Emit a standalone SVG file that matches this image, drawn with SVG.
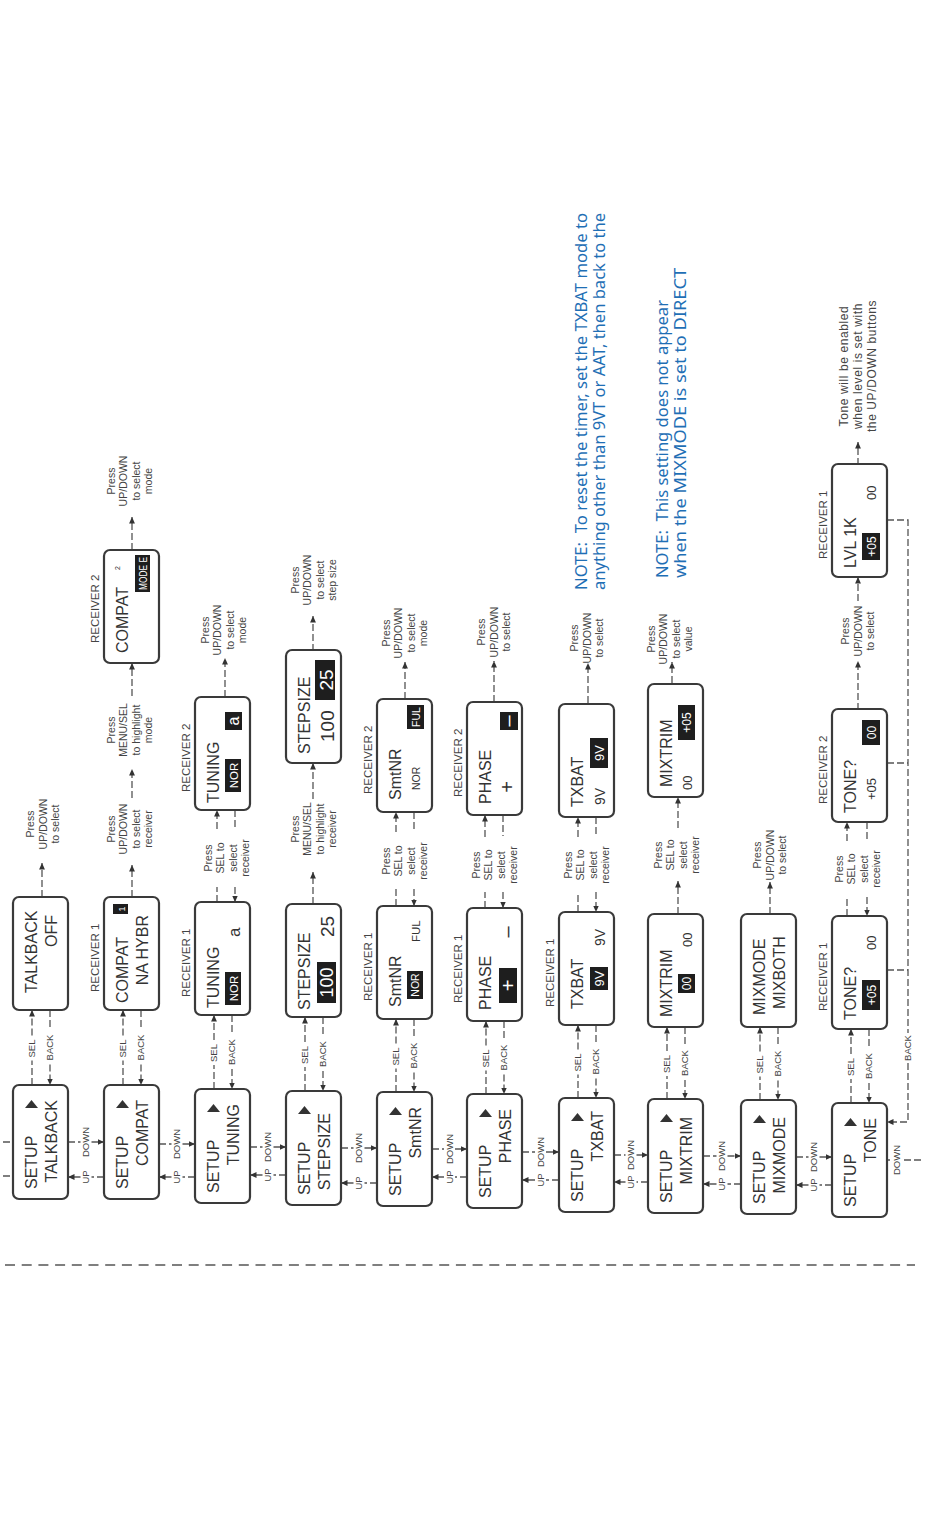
<svg xmlns="http://www.w3.org/2000/svg" width="950" height="1514" viewBox="0 0 950 1514">
<defs>
<marker id="ah" viewBox="0 0 10 10" refX="10" refY="5" markerWidth="6.5" markerHeight="6.5" markerUnits="userSpaceOnUse" orient="auto"><path d="M0,0.5 L10,5 L0,9.5 z" fill="#333"/></marker>
<style>
text{font-family:"Liberation Sans",Arial,sans-serif}
.box{fill:#fff;stroke:#3a3a3a;stroke-width:2.2}
.bt{font-size:16px;fill:#333}
.lb{font-size:10.5px;fill:#444;text-anchor:middle}
.cl{font-size:9.5px;fill:#444;text-anchor:middle}
.rc{font-size:11.5px;fill:#444}
.hl{fill:#1e1e1e}
.ht{fill:#fff;text-anchor:middle}
.vt{fill:#333}
.note{font-family:"Noto Sans","Open Sans",sans-serif;font-size:16px;fill:#1f6fb5}
.dl{fill:none;stroke:#555;stroke-width:1.3;stroke-dasharray:7 3}
.da{fill:none;stroke:#555;stroke-width:1.3;stroke-dasharray:7 3;marker-end:url(#ah)}
.sep{fill:none;stroke:#555;stroke-width:1.3;stroke-dasharray:10 6.7}
.tri{fill:#333}
</style>
</defs>
<rect width="950" height="1514" fill="#fff"/>
<g transform="translate(0,1514) rotate(-90)">

<g id="connectors">
<path class="sep" d="M249,5 V915"/>
<path class="dl" d="M372,3 V13 M338,3 V13"/>
<path class="dl" d="M429,32 H453.5"/><text class="cl" x="465.5" y="35.3">SEL</text><path class="da" d="M478.5,32 H504"/>
<path class="dl" d="M504,50 H484.5"/><text class="cl" x="466.5" y="53.3">BACK</text><path class="da" d="M449.5,50 H429"/>
<path class="dl" d="M429,123 H453.5"/><text class="cl" x="465.5" y="126.3">SEL</text><path class="da" d="M478.5,123 H504"/>
<path class="dl" d="M504,141 H484.5"/><text class="cl" x="466.5" y="144.3">BACK</text><path class="da" d="M449.5,141 H429"/>
<path class="dl" d="M425,214 H449"/><text class="cl" x="461" y="217.3">SEL</text><path class="da" d="M474,214 H499"/>
<path class="dl" d="M499,232 H480"/><text class="cl" x="462" y="235.3">BACK</text><path class="da" d="M445,232 H425"/>
<path class="dl" d="M423,305 H447"/><text class="cl" x="459" y="308.3">SEL</text><path class="da" d="M472,305 H497"/>
<path class="dl" d="M497,323 H478"/><text class="cl" x="460" y="326.3">BACK</text><path class="da" d="M443,323 H423"/>
<path class="dl" d="M422,396 H445.5"/><text class="cl" x="457.5" y="399.3">SEL</text><path class="da" d="M470.5,396 H495"/>
<path class="dl" d="M495,414 H476.5"/><text class="cl" x="458.5" y="417.3">BACK</text><path class="da" d="M441.5,414 H422"/>
<path class="dl" d="M420,486 H443.5"/><text class="cl" x="455.5" y="489.3">SEL</text><path class="da" d="M468.5,486 H493"/>
<path class="dl" d="M493,504 H474.5"/><text class="cl" x="456.5" y="507.3">BACK</text><path class="da" d="M439.5,504 H420"/>
<path class="dl" d="M416,578 H439.5"/><text class="cl" x="451.5" y="581.3">SEL</text><path class="da" d="M464.5,578 H489"/>
<path class="dl" d="M489,596 H470.5"/><text class="cl" x="452.5" y="599.3">BACK</text><path class="da" d="M435.5,596 H416"/>
<path class="dl" d="M415,667 H438"/><text class="cl" x="450" y="670.3">SEL</text><path class="da" d="M463,667 H487"/>
<path class="dl" d="M487,685 H469"/><text class="cl" x="451" y="688.3">BACK</text><path class="da" d="M434,685 H415"/>
<path class="dl" d="M414,760 H437.5"/><text class="cl" x="449.5" y="763.3">SEL</text><path class="da" d="M462.5,760 H487"/>
<path class="dl" d="M487,778 H468.5"/><text class="cl" x="450.5" y="781.3">BACK</text><path class="da" d="M433.5,778 H414"/>
<path class="dl" d="M411,851 H435"/><text class="cl" x="447" y="854.3">SEL</text><path class="da" d="M460,851 H485"/>
<path class="dl" d="M485,869 H466"/><text class="cl" x="448" y="872.3">BACK</text><path class="da" d="M431,869 H411"/>
<path class="dl" d="M372,68 V80.5"/><text class="cl" x="372" y="89.3">DOWN</text><path class="da" d="M372,91.5 V104"/>
<path class="dl" d="M337,104 V91.5"/><text class="cl" x="337" y="89.3">UP</text><path class="da" d="M337,80.5 V68"/>
<path class="dl" d="M370,159 V171.5"/><text class="cl" x="370" y="180.3">DOWN</text><path class="da" d="M370,182.5 V195"/>
<path class="dl" d="M337,195 V182.5"/><text class="cl" x="337" y="180.3">UP</text><path class="da" d="M337,171.5 V159"/>
<path class="dl" d="M367,250 V262.5"/><text class="cl" x="367" y="271.3">DOWN</text><path class="da" d="M367,273.5 V286"/>
<path class="dl" d="M339,286 V273.5"/><text class="cl" x="339" y="271.3">UP</text><path class="da" d="M339,262.5 V250"/>
<path class="dl" d="M366,341 V353.5"/><text class="cl" x="366" y="362.3">DOWN</text><path class="da" d="M366,364.5 V377"/>
<path class="dl" d="M331,377 V364.5"/><text class="cl" x="331" y="362.3">UP</text><path class="da" d="M331,353.5 V341"/>
<path class="dl" d="M365,432 V444"/><text class="cl" x="365" y="452.8">DOWN</text><path class="da" d="M365,455 V467"/>
<path class="dl" d="M337,467 V455"/><text class="cl" x="337" y="452.8">UP</text><path class="da" d="M337,444 V432"/>
<path class="dl" d="M362,522 V535"/><text class="cl" x="362" y="543.8">DOWN</text><path class="da" d="M362,546 V559"/>
<path class="dl" d="M334,559 V546"/><text class="cl" x="334" y="543.8">UP</text><path class="da" d="M334,535 V522"/>
<path class="dl" d="M359,614 V625.5"/><text class="cl" x="359" y="634.3">DOWN</text><path class="da" d="M359,636.5 V648"/>
<path class="dl" d="M332,648 V636.5"/><text class="cl" x="332" y="634.3">UP</text><path class="da" d="M332,625.5 V614"/>
<path class="dl" d="M358,703 V716.5"/><text class="cl" x="358" y="725.3">DOWN</text><path class="da" d="M358,727.5 V741"/>
<path class="dl" d="M330,741 V727.5"/><text class="cl" x="330" y="725.3">UP</text><path class="da" d="M330,716.5 V703"/>
<path class="dl" d="M357,796 V808.5"/><text class="cl" x="357" y="817.3">DOWN</text><path class="da" d="M357,819.5 V832"/>
<path class="dl" d="M329,832 V819.5"/><text class="cl" x="329" y="817.3">UP</text><path class="da" d="M329,808.5 V796"/>
<path class="dl" d="M354,887 V890 M354,904 V922"/><text class="cl" x="354" y="900.3">DOWN</text>
<path class="dl" d="M994,887 V908 H481"/><text class="cl" x="466" y="911.3">BACK</text><path class="da" d="M451,908 H392 V887"/>
<path class="dl" d="M544,887 V908 M751,887 V908"/>
<path class="da" d="M617,42 H651"/>
<path class="da" d="M617,132 H649"/><path class="da" d="M716,132 H745"/><path class="da" d="M818,132 H851"/><path class="da" d="M964,132 H997"/>
<path class="dl" d="M612,217 H627"/><path class="da" d="M685,217 H704"/><path class="dl" d="M704,235 H686"/><path class="da" d="M627,235 H612"/>
<path class="da" d="M817,225 H856"/>
<path class="da" d="M610,313 H642"/><path class="da" d="M715,313 H751"/><path class="da" d="M863,313 H898"/>
<path class="dl" d="M608,396 H625"/><path class="da" d="M682,396 H702"/><path class="dl" d="M702,414 H682"/><path class="da" d="M625,414 H608"/>
<path class="da" d="M815,405 H852"/>
<path class="dl" d="M606,485 H622"/><path class="da" d="M677,485 H699"/><path class="dl" d="M699,503 H678"/><path class="da" d="M622,503 H606"/>
<path class="da" d="M812,494 H853"/>
<path class="dl" d="M602,578 H622"/><path class="da" d="M677,578 H697"/><path class="dl" d="M697,596 H678"/><path class="da" d="M622,596 H602"/>
<path class="da" d="M811,588 H851"/>
<path class="da" d="M600,678 H633"/><path class="da" d="M686,678 H717"/><path class="da" d="M831,672 H852"/>
<path class="da" d="M600,770 H632"/>
<path class="dl" d="M598,847 H617"/><path class="da" d="M673,847 H692"/><path class="dl" d="M692,867 H674"/><path class="da" d="M617,867 H598"/>
<path class="da" d="M804,858 H853"/><path class="da" d="M913,858 H937"/><path class="da" d="M1049,858 H1072"/>
<text class="lb"><tspan x="690" y="34">Press</tspan><tspan x="690" y="46.5">UP/DOWN</tspan><tspan x="690" y="59">to select</tspan></text>
<text class="lb"><tspan x="685" y="114.75">Press</tspan><tspan x="685" y="127.25">UP/DOWN</tspan><tspan x="685" y="139.75">to select</tspan><tspan x="685" y="152.25">receiver</tspan></text>
<text class="lb"><tspan x="784" y="114.75">Press</tspan><tspan x="784" y="127.25">MENU/SEL</tspan><tspan x="784" y="139.75">to highlight</tspan><tspan x="784" y="152.25">mode</tspan></text>
<text class="lb"><tspan x="1033" y="114.75">Press</tspan><tspan x="1033" y="127.25">UP/DOWN</tspan><tspan x="1033" y="139.75">to select</tspan><tspan x="1033" y="152.25">mode</tspan></text>
<text class="lb"><tspan x="656" y="211.75">Press</tspan><tspan x="656" y="224.25">SEL to</tspan><tspan x="656" y="236.75">select</tspan><tspan x="656" y="249.25">receiver</tspan></text>
<text class="lb"><tspan x="884" y="208.75">Press</tspan><tspan x="884" y="221.25">UP/DOWN</tspan><tspan x="884" y="233.75">to select</tspan><tspan x="884" y="246.25">mode</tspan></text>
<text class="lb"><tspan x="685" y="298.75">Press</tspan><tspan x="685" y="311.25">MENU/SEL</tspan><tspan x="685" y="323.75">to highlight</tspan><tspan x="685" y="336.25">receiver</tspan></text>
<text class="lb"><tspan x="934" y="298.75">Press</tspan><tspan x="934" y="311.25">UP/DOWN</tspan><tspan x="934" y="323.75">to select</tspan><tspan x="934" y="336.25">step size</tspan></text>
<text class="lb"><tspan x="653" y="389.75">Press</tspan><tspan x="653" y="402.25">SEL to</tspan><tspan x="653" y="414.75">select</tspan><tspan x="653" y="427.25">receiver</tspan></text>
<text class="lb"><tspan x="881" y="389.75">Press</tspan><tspan x="881" y="402.25">UP/DOWN</tspan><tspan x="881" y="414.75">to select</tspan><tspan x="881" y="427.25">mode</tspan></text>
<text class="lb"><tspan x="649" y="479.75">Press</tspan><tspan x="649" y="492.25">SEL to</tspan><tspan x="649" y="504.75">select</tspan><tspan x="649" y="517.25">receiver</tspan></text>
<text class="lb"><tspan x="882" y="485">Press</tspan><tspan x="882" y="497.5">UP/DOWN</tspan><tspan x="882" y="510">to select</tspan></text>
<text class="lb"><tspan x="649" y="571.75">Press</tspan><tspan x="649" y="584.25">SEL to</tspan><tspan x="649" y="596.75">select</tspan><tspan x="649" y="609.25">receiver</tspan></text>
<text class="lb"><tspan x="876" y="578">Press</tspan><tspan x="876" y="590.5">UP/DOWN</tspan><tspan x="876" y="603">to select</tspan></text>
<text class="lb"><tspan x="659" y="661.75">Press</tspan><tspan x="659" y="674.25">SEL to</tspan><tspan x="659" y="686.75">select</tspan><tspan x="659" y="699.25">receiver</tspan></text>
<text class="lb"><tspan x="875" y="654.75">Press</tspan><tspan x="875" y="667.25">UP/DOWN</tspan><tspan x="875" y="679.75">to select</tspan><tspan x="875" y="692.25">value</tspan></text>
<text class="lb"><tspan x="659" y="761">Press</tspan><tspan x="659" y="773.5">UP/DOWN</tspan><tspan x="659" y="786">to select</tspan></text>
<text class="lb"><tspan x="645" y="842.75">Press</tspan><tspan x="645" y="855.25">SEL to</tspan><tspan x="645" y="867.75">select</tspan><tspan x="645" y="880.25">receiver</tspan></text>
<text class="lb"><tspan x="883" y="849">Press</tspan><tspan x="883" y="861.5">UP/DOWN</tspan><tspan x="883" y="874">to select</tspan></text>
<text class="lb" style="font-size:12px;letter-spacing:0.6px"><tspan x="1148" y="848">Tone will be enabled</tspan><tspan x="1148" y="862">when level is set with</tspan><tspan x="1148" y="876">the UP/DOWN buttons</tspan></text>
</g>

<g id="notes">
<text class="note" x="924" y="587" textLength="377" lengthAdjust="spacingAndGlyphs" xml:space="preserve">NOTE:  To reset the timer, set the TXBAT mode to</text>
<text class="note" x="924" y="605" textLength="377" lengthAdjust="spacingAndGlyphs">anything other than 9VT or AAT, then back to the</text>
<text class="note" x="936" y="668" textLength="278" lengthAdjust="spacingAndGlyphs" xml:space="preserve">NOTE:  This setting does not appear</text>
<text class="note" x="936" y="686" textLength="310" lengthAdjust="spacingAndGlyphs">when the MIXMODE is set to DIRECT</text>
</g>

<g id="setup-talkback"><rect class="box" x="315" y="13" width="114" height="55" rx="6"/><text class="bt" x="325" y="37">SETUP</text><polygon class="tri" points="406,25 406,38 414,31.5"/><text class="bt" x="414" y="57" text-anchor="end">TALKBACK</text></g>
<g id="setup-compat"><rect class="box" x="315" y="104" width="114" height="55" rx="6"/><text class="bt" x="325" y="128">SETUP</text><polygon class="tri" points="406,116 406,129 414,122.5"/><text class="bt" x="414" y="148" text-anchor="end">COMPAT</text></g>
<g id="setup-tuning"><rect class="box" x="311" y="195" width="114" height="55" rx="6"/><text class="bt" x="321" y="219">SETUP</text><polygon class="tri" points="402,207 402,220 410,213.5"/><text class="bt" x="410" y="239" text-anchor="end">TUNING</text></g>
<g id="setup-stepsize"><rect class="box" x="309" y="286" width="114" height="55" rx="6"/><text class="bt" x="319" y="310">SETUP</text><polygon class="tri" points="400,298 400,311 408,304.5"/><text class="bt" x="401" y="330" text-anchor="end">STEPSIZE</text></g>
<g id="setup-smtnr"><rect class="box" x="308" y="377" width="114" height="55" rx="6"/><text class="bt" x="318" y="401">SETUP</text><polygon class="tri" points="399,389 399,402 407,395.5"/><text class="bt" x="407" y="421" text-anchor="end">SmtNR</text></g>
<g id="setup-phase"><rect class="box" x="306" y="467" width="114" height="55" rx="6"/><text class="bt" x="316" y="491">SETUP</text><polygon class="tri" points="397,479 397,492 405,485.5"/><text class="bt" x="405" y="511" text-anchor="end">PHASE</text></g>
<g id="setup-txbat"><rect class="box" x="302" y="559" width="114" height="55" rx="6"/><text class="bt" x="312" y="583">SETUP</text><polygon class="tri" points="393,571 393,584 401,577.5"/><text class="bt" x="403" y="603" text-anchor="end">TXBAT</text></g>
<g id="setup-mixtrim"><rect class="box" x="301" y="648" width="114" height="55" rx="6"/><text class="bt" x="311" y="672">SETUP</text><polygon class="tri" points="392,660 392,673 400,666.5"/><text class="bt" x="397" y="692" text-anchor="end">MIXTRIM</text></g>
<g id="setup-mixmode"><rect class="box" x="300" y="741" width="114" height="55" rx="6"/><text class="bt" x="310" y="765">SETUP</text><polygon class="tri" points="391,753 391,766 399,759.5"/><text class="bt" x="397" y="785" text-anchor="end">MIXMODE</text></g>
<g id="setup-tone"><rect class="box" x="297" y="832" width="114" height="55" rx="6"/><text class="bt" x="307" y="856">SETUP</text><polygon class="tri" points="388,844 388,857 396,850.5"/><text class="bt" x="396" y="876" text-anchor="end">TONE</text></g>

<g id="talkback-off"><rect class="box" x="504" y="13" width="113" height="55" rx="6"/><text class="bt" x="521" y="37">TALKBACK</text><text class="bt" x="599" y="57" text-anchor="end">OFF</text></g>
<g id="compat-r1"><text class="rc" x="522" y="99">RECEIVER 1</text><rect class="box" x="504" y="104" width="113" height="55" rx="6"/><text class="bt" x="511" y="128">COMPAT</text><rect class="hl" x="600" y="113" width="10" height="15"/><text class="ht" x="605" y="124.5" style="font-size:9px">1</text><text class="bt" x="599" y="148" text-anchor="end">NA HYBR</text></g>
<g id="tuning-r1"><text class="rc" x="517" y="190">RECEIVER 1</text><rect class="box" x="499" y="195" width="113" height="55" rx="6"/><text class="bt" x="506" y="219">TUNING</text><rect class="hl" x="509" y="225" width="33" height="16"/><text class="ht" x="525.5" y="237.5" style="font-size:11.5px">NOR</text><text class="vt" x="577" y="240" style="font-size:17px">a</text></g>
<g id="stepsize-r1"><rect class="box" x="497" y="286" width="113" height="55" rx="6"/><text class="bt" x="504" y="310">STEPSIZE</text><rect class="hl" x="511" y="317" width="41" height="19"/><text class="ht" x="531.5" y="333" style="font-size:18px">100</text><text class="vt" x="577" y="334" style="font-size:19px">25</text></g>
<g id="smtnr-r1"><text class="rc" x="513" y="372">RECEIVER 1</text><rect class="box" x="495" y="377" width="113" height="55" rx="6"/><text class="bt" x="507" y="401">SmtNR</text><rect class="hl" x="515" y="407" width="28" height="16"/><text class="ht" x="529" y="419" style="font-size:10.5px">NOR</text><text class="vt" x="572" y="420" style="font-size:11.5px">FUL</text></g>
<g id="phase-r1"><text class="rc" x="511" y="462">RECEIVER 1</text><rect class="box" x="493" y="467" width="113" height="55" rx="6"/><text class="bt" x="504" y="491">PHASE</text><rect class="hl" x="511" y="499" width="35" height="18"/><text class="ht" x="528.5" y="515" style="font-size:20px">+</text><text class="vt" x="582" y="514" text-anchor="middle" style="font-size:20px">–</text></g>
<g id="txbat-r1"><text class="rc" x="507" y="554">RECEIVER 1</text><rect class="box" x="489" y="559" width="113" height="55" rx="6"/><text class="bt" x="505" y="583">TXBAT</text><rect class="hl" x="524" y="590" width="23" height="18"/><text class="ht" x="535.5" y="604" style="font-size:13px">9V</text><text class="vt" x="568" y="605" style="font-size:14px">9V</text></g>
<g id="mixtrim-r1"><rect class="box" x="487" y="648" width="113" height="55" rx="6"/><text class="bt" x="497" y="672">MIXTRIM</text><rect class="hl" x="521" y="678" width="19" height="17"/><text class="ht" x="530.5" y="691" style="font-size:12px">00</text><text class="vt" x="567" y="692" style="font-size:13px">00</text></g>
<g id="mixmode"><rect class="box" x="487" y="741" width="113" height="55" rx="6"/><text class="bt" x="499" y="765">MIXMODE</text><text class="bt" x="505" y="785">MIXBOTH</text></g>
<g id="tone-r1"><text class="rc" x="503" y="827">RECEIVER 1</text><rect class="box" x="485" y="832" width="113" height="55" rx="6"/><text class="bt" x="494" y="856">TONE?</text><rect class="hl" x="504" y="862" width="30" height="18"/><text class="ht" x="519" y="875.5" style="font-size:12px">+05</text><text class="vt" x="564" y="876" style="font-size:13px">00</text></g>

<g id="compat-r2"><text class="rc" x="871" y="99">RECEIVER 2</text><rect class="box" x="851" y="104" width="113" height="55" rx="6"/><text class="bt" x="861" y="128">COMPAT</text><text class="vt" x="944" y="120" style="font-size:7px">2</text><rect class="hl" x="922" y="135" width="37" height="15"/><text class="ht" x="940.5" y="146.5" style="font-size:10.5px" textLength="33" lengthAdjust="spacingAndGlyphs">MODE E</text></g>
<g id="tuning-r2"><text class="rc" x="722" y="190">RECEIVER 2</text><rect class="box" x="704" y="195" width="113" height="55" rx="6"/><text class="bt" x="711" y="219">TUNING</text><rect class="hl" x="722" y="225" width="33" height="16"/><text class="ht" x="738.5" y="237.5" style="font-size:11.5px">NOR</text><rect class="hl" x="784" y="225" width="18" height="17"/><text class="ht" x="793" y="239" style="font-size:16px">a</text></g>
<g id="stepsize-r2"><rect class="box" x="751" y="286" width="113" height="55" rx="6"/><text class="bt" x="760" y="310">STEPSIZE</text><text class="vt" x="772" y="334" style="font-size:19px">100</text><rect class="hl" x="814" y="315" width="40" height="20"/><text class="ht" x="834" y="333" style="font-size:19px">25</text></g>
<g id="smtnr-r2"><text class="rc" x="720" y="372">RECEIVER 2</text><rect class="box" x="702" y="377" width="113" height="55" rx="6"/><text class="bt" x="714" y="401">SmtNR</text><text class="vt" x="724" y="420" style="font-size:10.5px">NOR</text><rect class="hl" x="785" y="407" width="24" height="17"/><text class="ht" x="797" y="419.5" style="font-size:10.5px">FUL</text></g>
<g id="phase-r2"><text class="rc" x="717" y="462">RECEIVER 2</text><rect class="box" x="699" y="467" width="113" height="55" rx="6"/><text class="bt" x="710" y="491">PHASE</text><text class="vt" x="727" y="514" text-anchor="middle" style="font-size:20px">+</text><rect class="hl" x="784" y="500" width="18" height="18"/><text class="ht" x="793" y="515" style="font-size:20px">–</text></g>
<g id="txbat-r2"><rect class="box" x="697" y="559" width="113" height="55" rx="6"/><text class="bt" x="707" y="583">TXBAT</text><text class="vt" x="709" y="605" style="font-size:14px">9V</text><rect class="hl" x="746" y="590" width="30" height="18"/><text class="ht" x="761" y="604" style="font-size:13px">9V</text></g>
<g id="mixtrim-r2"><rect class="box" x="717" y="648" width="113" height="55" rx="6"/><text class="bt" x="727" y="672">MIXTRIM</text><text class="vt" x="724" y="692" style="font-size:13px">00</text><rect class="hl" x="774" y="678" width="35" height="17"/><text class="ht" x="791.5" y="691" style="font-size:12px">+05</text></g>
<g id="tone-r2"><text class="rc" x="710" y="827">RECEIVER 2</text><rect class="box" x="692" y="832" width="113" height="55" rx="6"/><text class="bt" x="701" y="856">TONE?</text><text class="vt" x="714" y="876" style="font-size:13px">+05</text><rect class="hl" x="769" y="862" width="25" height="18"/><text class="ht" x="781.5" y="875.5" style="font-size:12px">00</text></g>
<g id="lvl-1k"><text class="rc" x="955" y="827">RECEIVER 1</text><rect class="box" x="937" y="832" width="113" height="55" rx="6"/><text class="bt" x="946" y="856">LVL 1K</text><rect class="hl" x="954" y="862" width="27" height="18"/><text class="ht" x="967.5" y="875.5" style="font-size:12px">+05</text><text class="vt" x="1014" y="876" style="font-size:13px">00</text></g>
</g>
</svg>
